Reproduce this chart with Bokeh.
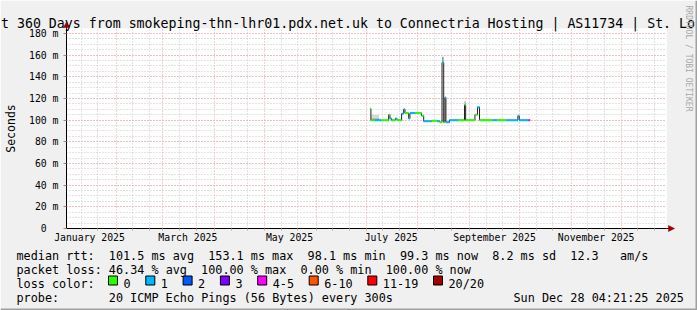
import re
import math
import pandas as pd
from bokeh.plotting import figure
from bokeh.core.properties import value
from bokeh.models import (ColumnDataSource, FixedTicker, CustomJSTickFormatter, Range1d)
from bokeh.embed import file_html
from bokeh.resources import INLINE

# ---------------- texts ----------------
title_text = "t 360 Days from smokeping-thn-lhr01.pdx.net.uk to Connectria Hosting | AS11734 | St. Lo"
y_axis_title = "Seconds"
credit_text = "RRDTOOL / TOBI OETIKER"
legend_rows = [
    "median rtt:  101.5 ms avg  153.1 ms max  98.1 ms min  99.3 ms now  8.2 ms sd  12.3   am/s",
    "packet loss: 46.34 % avg  100.00 % max  0.00 % min  100.00 % now",
]
loss_row_title = "loss color:"
probe_row = "probe:       20 ICMP Echo Pings (56 Bytes) every 300s"
timestamp_text = "Sun Dec 28 04:21:25 2025"

# ---------------- axes ----------------
graph_start = "2025-01-02 04:21:25"
graph_end = "2025-12-28 04:21:25"
y_max = 184.6
y_ticks = [0, 20, 40, 60, 80, 100, 120, 140, 160, 180]
y_minor_ticks = [0, 5, 10, 15, 20, 25, 30, 35, 40, 45, 50, 55, 60, 65, 70, 75, 80, 85, 90,
                 95, 100, 105, 110, 115, 120, 125, 130, 135, 140, 145, 150, 155, 160, 165,
                 170, 175, 180]
x_label_dates = ["2025-01-16", "2025-03-16", "2025-05-16", "2025-07-16", "2025-09-16", "2025-11-16"]
month_names = ["January", "February", "March", "April", "May", "June", "July",
               "August", "September", "October", "November", "December"]
grid_month_starts = ["2025-02-01", "2025-03-01", "2025-04-01", "2025-05-01", "2025-06-01",
                     "2025-07-01", "2025-08-01", "2025-09-01", "2025-10-01", "2025-11-01",
                     "2025-12-01"]
grid_minor_dates = ["2025-01-11", "2025-01-21", "2025-02-11", "2025-02-21", "2025-03-11",
                    "2025-03-21", "2025-04-11", "2025-04-21", "2025-05-11", "2025-05-21",
                    "2025-06-11", "2025-06-21", "2025-07-11", "2025-07-21", "2025-08-11",
                    "2025-08-21", "2025-09-11", "2025-09-21", "2025-10-11", "2025-10-21",
                    "2025-11-11", "2025-11-21", "2025-12-11", "2025-12-21"]

# ---------------- loss colours ----------------
loss_labels = ["0", "1", "2", "3", "4-5", "6-10", "11-19", "20/20"]
loss_colors = ["#26ff00", "#00b8ff", "#0059ff", "#7e00ff", "#ff00ff", "#ff5500", "#ff0000", "#a10000"]

# ---------------- median rtt (ms), step starts ----------------
med_start = ["2025-07-03 06:00", "2025-07-03 20:00", "2025-07-06 06:00", "2025-07-10 00:00",
             "2025-07-14 12:00", "2025-07-15 06:00", "2025-07-16 06:00", "2025-07-18 12:00",
             "2025-07-19 12:00", "2025-07-22 06:00", "2025-07-23 12:00", "2025-07-24 06:00",
             "2025-07-26 12:00", "2025-07-27 06:00", "2025-07-30 12:00", "2025-08-03 06:00",
             "2025-08-04 12:00", "2025-08-09 06:00", "2025-08-12 18:00", "2025-08-14 06:00",
             "2025-08-15 12:00", "2025-08-16 12:00", "2025-08-17 06:00", "2025-08-17 20:00",
             "2025-08-20 00:00", "2025-08-25 00:00", "2025-08-29 00:00", "2025-08-29 16:00",
             "2025-09-04 06:00", "2025-09-05 18:00", "2025-09-07 00:00", "2025-09-15 00:00",
             "2025-09-17 12:00", "2025-09-23 00:00", "2025-09-30 00:00", "2025-09-30 20:00",
             "2025-10-06 06:00"]
med_rtt = [110.5, 100.0, 100.0, 99.8,
           105.0, 101.5, 100.0, 101.5,
           100.0, 106.0, 110.0, 106.5,
           101.5, 106.5, 106.5, 104.0,
           99.0, 99.5, 99.0, 98.0,
           153.1, 98.0, 121.0, 98.0,
           100.0, 100.0, 114.0, 100.0,
           105.0, 112.0, 100.0, 100.0,
           100.0, 100.0, 104.0, 100.0,
           100.0]
med_loss = [0, 0, 1, 0,
            0, 1, 0, 1,
            0, 1, 1, 0,
            1, 1, 0, 0,
            1, 0, 1, 0,
            1, 0, 1, 1,
            1, 0, 0, 0,
            0, 1, 0, 1,
            0, 1, 1, 1,
            4]
med_end = "2025-10-07 10:00"

# ---------------- smoke (ping spread) ----------------
smoke_start = ["2025-07-04 00:00", "2025-07-04 00:00", "2025-08-15 12:00", "2025-08-29 00:00"]
smoke_end = ["2025-07-08 18:00", "2025-07-08 18:00", "2025-08-16 12:00", "2025-08-29 16:00"]
smoke_lo = [100.0, 102.5, 153.1, 114.0]
smoke_hi = [102.5, 105.0, 158.5, 117.5]
smoke_density = [0.35, 0.2, 0.5, 0.5]


def to_ms(vals):
    return [(pd.Timestamp(v) - pd.Timestamp("1970-01-01")) / pd.Timedelta("1ms") for v in vals]


start_ms, end_ms = to_ms([graph_start, graph_end])

# layout geometry (pixels)
W, H = 697, 310
FL, FR, FT, FB = 66, 666, 28, 228
MONO = "DejaVu Sans Mono"
BG = "#f0f0f0"

p = figure(width=W, height=H, x_axis_type="datetime",
           x_range=Range1d(start_ms, end_ms), y_range=Range1d(0, y_max),
           min_border_left=FL, min_border_right=W - FR, min_border_top=FT,
           min_border_bottom=H - FB, background_fill_color="#ffffff",
           border_fill_color=BG, outline_line_color=None,
           output_backend="svg", toolbar_location=None)

# grids
MAJ = "#eaa0a0"
MIN = "#c8c8c8"
p.ygrid.grid_line_color = MAJ
p.ygrid.grid_line_dash = "1 2"
p.ygrid.minor_grid_line_color = MIN
p.ygrid.minor_grid_line_dash = "1 2"
p.xgrid.ticker = FixedTicker(ticks=to_ms(grid_month_starts), minor_ticks=to_ms(grid_minor_dates))
p.xgrid.grid_line_color = MAJ
p.xgrid.grid_line_dash = "1 2"
p.xgrid.minor_grid_line_color = MIN
p.xgrid.minor_grid_line_dash = "1 2"

# y axis
p.yaxis.ticker = FixedTicker(ticks=y_ticks, minor_ticks=y_minor_ticks)
p.yaxis.formatter = CustomJSTickFormatter(
    code="return tick == 0 ? '0\\u00a0\\u00a0' : tick.toFixed(0) + ' m';")
p.yaxis.axis_label = y_axis_title
p.yaxis.axis_label_text_font = MONO
p.yaxis.axis_label_text_font_size = "11.5px"
p.yaxis.axis_label_text_font_style = "normal"
p.yaxis.axis_label_text_color = "#000000"
p.yaxis.axis_label_standoff = 8
p.yaxis.major_label_text_font = MONO
p.yaxis.major_label_text_font_size = "9.8px"
p.yaxis.major_label_text_color = "#000000"
p.yaxis.major_label_standoff = 4
p.yaxis.major_tick_out = 3
p.yaxis.major_tick_in = 0
p.yaxis.major_tick_line_color = "#d07070"
p.yaxis.minor_tick_line_color = None
p.yaxis.axis_line_color = "#000000"

# x axis
p.xaxis.ticker = FixedTicker(ticks=to_ms(x_label_dates),
                             minor_ticks=to_ms(grid_month_starts + grid_minor_dates))
p.xaxis.formatter = CustomJSTickFormatter(
    args=dict(names=month_names),
    code="const d = new Date(tick); return names[d.getUTCMonth()] + ' ' + d.getUTCFullYear();")
p.xaxis.major_label_text_font = MONO
p.xaxis.major_label_text_font_size = "9.8px"
p.xaxis.major_label_text_color = "#000000"
p.xaxis.major_label_standoff = 1
p.xaxis.major_tick_line_color = None
p.xaxis.major_tick_out = 0
p.xaxis.major_tick_in = 0
p.xaxis.minor_tick_line_color = "#c8a8a8"
p.xaxis.minor_tick_out = 2
p.xaxis.minor_tick_in = 0
p.xaxis.axis_line_color = "#000000"

# smoke
s_col = []
for d in smoke_density:
    g = int(round(255 - d * 200))
    s_col.append("#%02x%02x%02x" % (g, g, g))
smoke_src = ColumnDataSource(dict(left=to_ms(smoke_start), right=to_ms(smoke_end),
                                  bottom=smoke_lo, top=smoke_hi, color=s_col))
p.quad(left="left", right="right", bottom="bottom", top="top", color="color",
       line_color=None, source=smoke_src)

# median: dark connecting step line + loss-coloured horizontal pieces
m_x = to_ms(med_start)
m_end = m_x[1:] + to_ms([med_end])
step_x = []
step_y = []
for i in range(len(m_x)):
    step_x += [m_x[i], m_end[i]]
    step_y += [med_rtt[i], med_rtt[i]]
p.line(step_x, step_y, line_color="#202020", line_width=1)
seg_src = ColumnDataSource(dict(x0=m_x, x1=m_end, y=med_rtt,
                                color=[loss_colors[k] for k in med_loss]))
p.segment(x0="x0", y0="y", x1="x1", y1="y", color="color", line_width=2, source=seg_src)

# ---------------- transparent overlay for texts around the graph ----------------
ov = figure(width=W, height=H, x_range=Range1d(0, W), y_range=Range1d(H, 0),
            x_axis_location=None, y_axis_location=None, min_border=0,
            min_border_left=0, min_border_right=0, min_border_top=0, min_border_bottom=0,
            background_fill_alpha=0, border_fill_alpha=0, outline_line_color=None,
            output_backend="svg", toolbar_location=None,
            styles={"position": "absolute", "top": "0px", "left": "0px"})
for g in ov.grid:
    g.visible = False

tx, ty, tt, tsz = [], [], [], []


def add_text(txt, px, py, size):
    tx.append(px)
    ty.append(py)
    tt.append(txt)
    tsz.append(size)


add_text(title_text, 0.5, 23, "13.25px")
CW = 7.1
LX = 16
row_base = [255, 269, 283, 297]
for r, line in enumerate(legend_rows):
    for m in re.finditer(r"\S+(?: \S+)*", line):
        add_text(m.group(0), LX + m.start() * CW, row_base[r], "11.8px")
add_text(loss_row_title, LX, row_base[2], "11.8px")
bl, br = [], []
bx = 108
for lab in loss_labels:
    bl.append(bx)
    br.append(bx + 9)
    add_text(lab, bx + 15, row_base[2], "11.8px")
    bx += 30.2 + len(lab) * CW
for m in re.finditer(r"\S+(?: \S+)*", probe_row):
    add_text(m.group(0), LX + m.start() * CW, row_base[3], "11.8px")
add_text(timestamp_text, 513, row_base[3], "11.8px")

ov.text(x=tx, y=ty, text=tt, text_font=value(MONO), text_font_size=tsz,
        text_color="#000000", text_align="left", text_baseline="alphabetic")

# loss colour boxes
box_top = row_base[2] - 7.5
ov.quad(left=bl, right=br, top=[box_top] * len(bl), bottom=[box_top + 9] * len(bl),
        fill_color=loss_colors, line_color="#000000", line_width=1)

# credit text (vertical)
ov.text(x=[688], y=[5], text=[credit_text], text_font=value(MONO), text_font_size="8px",
        text_color="#a8a8a8", angle=-math.pi / 2, text_align="left", text_baseline="middle")

# axis arrows
ov.segment(x0=[FR, FL], y0=[FB, FT], x1=[669, FL], y1=[FB, 25], line_color="#000000", line_width=1)
ov.patches(xs=[[674, 668, 668], [FL - 3, FL + 3, FL]], ys=[[FB, FB - 3, FB + 3], [27, 27, 21.5]],
           fill_color="#990000", line_color="#990000", line_width=0.5)

# 3D frame edges (right / bottom shadow)
ov.quad(left=[695, 0], right=[697, 697], top=[0, 308], bottom=[310, 310],
        fill_color="#a0a0a0", line_color=None)

open("out.html", "w").write(file_html([p, ov], INLINE))
